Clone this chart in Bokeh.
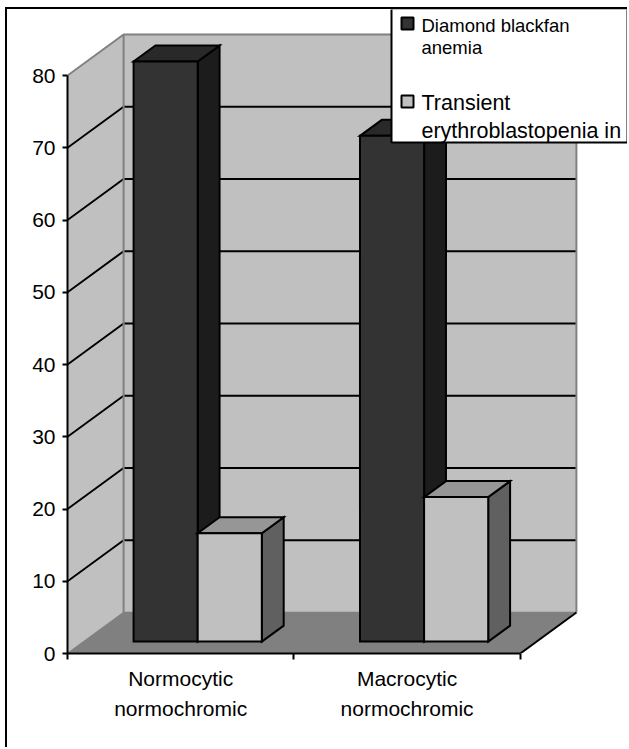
from bokeh.plotting import figure
from bokeh.models import FixedTicker, Range1d, BoxAnnotation, Label, LinearAxis
from bokeh.embed import file_html
from bokeh.resources import INLINE

categories_line1 = ["Normocytic", "Macrocytic"]
categories_line2 = ["normochromic", "normochromic"]
series_names = ["Diamond blackfan anemia", "Transient erythroblastopenia in"]
diamond_values = [80.3, 70]
transient_values = [15, 20]
y_ticks = [0, 10, 20, 30, 40, 50, 60, 70, 80]

FONT = "Liberation Sans"
PXX = 226.0      # pixels per category
PXY = 7.225      # pixels per value unit
WALL_DX = 56 / PXX
WALL_DY = 41 / PXY
D0, D1 = 0.29, 0.68   # bar depth range
BAR_W = 64 / PXX
BAR_L = 0.22

OX, OY = 7, 9  # canvas origin in picture pixels
LX, LY = 2, 2  # legend correction
W, H = 629 - OX, 749 - OY
p = figure(width=W, height=H, output_backend="svg", toolbar_location=None,
           x_range=Range1d(0, (629 - 68) / PXX), y_range=Range1d(0, (653 - OY) / PXY),
           min_border_left=67 - OX, min_border_right=0, min_border_top=0, min_border_bottom=749 - 653,
           outline_line_color=None, background_fill_color="white", tools="")
p.styles = {"border-left": "2px solid black", "border-top": "2px solid black",
            "margin-left": "5px", "margin-top": "7px"}
p.grid.visible = False

def proj(x, v, d):
    return x + d * WALL_DX, v + d * WALL_DY

top = max(y_ticks)
# walls
p.patch([0, WALL_DX, WALL_DX, 0], [0, WALL_DY, top + WALL_DY, top], fill_color="#C0C0C0", line_color=None)
p.patch([WALL_DX, 2 + WALL_DX, 2 + WALL_DX, WALL_DX], [WALL_DY, WALL_DY, top + WALL_DY, top + WALL_DY],
        fill_color="#C0C0C0", line_color=None)
p.patch([0, 2, 2 + WALL_DX, WALL_DX], [0, 0, WALL_DY, WALL_DY], fill_color="#808080", line_color=None)
# gridlines
for t in y_ticks[1:-1]:
    p.line([0, WALL_DX, 2 + WALL_DX], [t, t + WALL_DY, t + WALL_DY], line_color="black", line_width=2)
# wall edges
GREY = "#808080"
p.line([0, WALL_DX, 2 + WALL_DX, 2 + WALL_DX], [top, top + WALL_DY, top + WALL_DY, WALL_DY], line_color=GREY, line_width=2)
p.line([WALL_DX, WALL_DX], [WALL_DY, top + WALL_DY], line_color=GREY, line_width=2)
p.line([0, WALL_DX, 2 + WALL_DX], [0, WALL_DY, WALL_DY], line_color=GREY, line_width=1.5)
p.line([2, 2 + WALL_DX], [0, WALL_DY], line_color="black", line_width=2)

def bar(x0, v, front, topc, side):
    x1 = x0 + BAR_W
    fl = proj(x0, 0, D0); fr = proj(x1, 0, D0); bl = proj(x1, 0, D1)
    tfl = proj(x0, v, D0); tfr = proj(x1, v, D0); tbr = proj(x1, v, D1); tbl = proj(x0, v, D1)
    kw = dict(line_color="black", line_width=2, line_join="miter")
    p.patch([fr[0], bl[0], tbr[0], tfr[0]], [fr[1], bl[1], tbr[1], tfr[1]], fill_color=side, **kw)
    p.patch([tfl[0], tfr[0], tbr[0], tbl[0]], [tfl[1], tfr[1], tbr[1], tbl[1]], fill_color=topc, **kw)
    p.patch([fl[0], fr[0], tfr[0], tfl[0]], [fl[1], fr[1], tfr[1], tfl[1]], fill_color=front, **kw)

for i in range(len(categories_line1)):
    bar(i + BAR_L, diamond_values[i], "#333333", "#292929", "#1C1C1C")
    bar(i + BAR_L + BAR_W, transient_values[i], "#C0C0C0", "#969696", "#606060")

# axes
yax = p.yaxis[0]
yax.ticker = FixedTicker(ticks=y_ticks)
yax.bounds = (0, top)
yax.axis_line_color = "black"; yax.axis_line_width = 2
yax.major_tick_line_color = "black"; yax.major_tick_line_width = 2
yax.major_tick_in = 0; yax.major_tick_out = 5
yax.minor_tick_line_color = None
yax.major_label_text_font = FONT; yax.major_label_text_font_size = "21px"; yax.major_label_text_color = "black"
yax.major_label_standoff = 7

xax = p.xaxis[0]
xax.ticker = FixedTicker(ticks=[0.5, 1.5], minor_ticks=[0, 1, 2])
xax.bounds = (0, 2)
xax.axis_line_color = "black"; xax.axis_line_width = 2
xax.major_tick_line_color = None
xax.major_tick_in = 0; xax.major_tick_out = 0
xax.minor_tick_line_color = "black"; xax.minor_tick_line_width = 2
xax.minor_tick_in = 0; xax.minor_tick_out = 6
xax.major_label_overrides = {0.5: categories_line1[0], 1.5: categories_line1[1]}
xax.major_label_text_font = FONT; xax.major_label_text_font_size = "21px"; xax.major_label_text_color = "black"
xax.major_label_standoff = 7

xax2 = LinearAxis(ticker=FixedTicker(ticks=[0.5, 1.5]), axis_line_color=None,
                  major_tick_line_color=None, minor_tick_line_color=None,
                  major_tick_in=0, major_tick_out=0,
                  major_label_overrides={0.5: categories_line2[0], 1.5: categories_line2[1]},
                  major_label_text_font=FONT, major_label_text_font_size="21px", major_label_text_color="black",
                  major_label_standoff=4)
p.add_layout(xax2, "below")

# legend box (positions given in picture pixels)
def box(l, r, t, b, **kw):
    p.add_layout(BoxAnnotation(left=l - OX - LX, right=r - OX - LX, top=t - OY - LY, bottom=b - OY - LY,
                               left_units="canvas", right_units="canvas",
                               top_units="canvas", bottom_units="canvas", level="overlay", **kw))

box(391, 627, OY - 1, 142, fill_color="white", fill_alpha=1, line_color="black", line_width=2, line_alpha=1)
for y0, col in ((17, "#333333"), (95, "#C0C0C0")):
    box(401, 413, y0, y0 + 12, fill_color=col, fill_alpha=1, line_color="black", line_width=2, line_alpha=1)
for txt, y, fs in (("Diamond blackfan", 25, "18.5px"), ("anemia", 47, "18.5px"),
                   ("Transient", 102, "21.5px"), ("erythroblastopenia in", 130, "21.5px")):
    p.add_layout(Label(x=421 - OX - LX, y=y - OY - LY, x_units="canvas", y_units="canvas", text=txt, text_baseline="middle",
                       text_font=FONT, text_font_size=fs, text_color="black", level="overlay"))

open("out.html", "w").write(file_html(p, INLINE))
